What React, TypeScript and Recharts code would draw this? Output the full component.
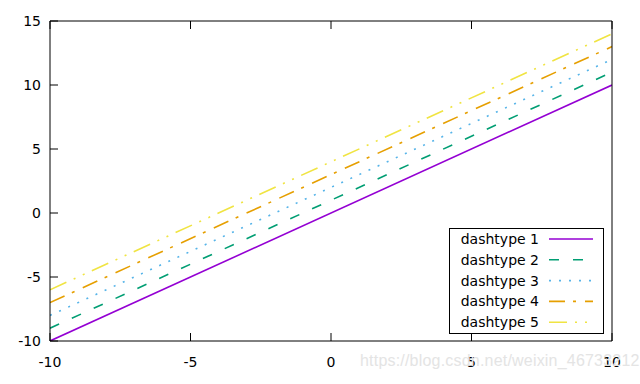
import React from "react";
import { LineChart, Line, XAxis, YAxis, Legend } from "recharts";

const xValues = [-10, 10];
const offsets = [0, 1, 2, 3, 4];
const seriesNames = ["dashtype 1", "dashtype 2", "dashtype 3", "dashtype 4", "dashtype 5"];
const seriesColors = ["#9400d3", "#009e73", "#56b4e9", "#e69f00", "#f0e442"];
const seriesDashes = ["", "10 14", "2 8", "16 8 3 9", "18 8 2 8 2 8"];
const xTicks = [-10, -5, 0, 5, 10];
const yTicks = [-10, -5, 0, 5, 10, 15];

const data = xValues.map((x) => {
  const row: Record<string, number> = { x };
  offsets.forEach((o, i) => {
    row["s" + i] = x + o;
  });
  return row;
});

const FONT = "DejaVu Sans";

const BottomTick = (props: any) => {
  const { x, y, payload } = props;
  return (
    <g>
      <line x1={x} x2={x} y1={y} y2={y - 8} stroke="#000" strokeWidth={1} />
      <text x={x} y={y + 26} textAnchor="middle" fontFamily={FONT} fontSize={14} fill="#000">
        {payload.value}
      </text>
    </g>
  );
};
const TopTick = (props: any) => {
  const { x, y } = props;
  return <line x1={x} x2={x} y1={y} y2={y + 8} stroke="#000" strokeWidth={1} />;
};
const LeftTick = (props: any) => {
  const { x, y, payload } = props;
  return (
    <g>
      <line x1={x} x2={x + 8} y1={y} y2={y} stroke="#000" strokeWidth={1} />
      <text x={x - 9} y={y + 5} textAnchor="end" fontFamily={FONT} fontSize={14} fill="#000">
        {payload.value}
      </text>
    </g>
  );
};
const RightTick = (props: any) => {
  const { x, y } = props;
  return <line x1={x} x2={x - 8} y1={y} y2={y} stroke="#000" strokeWidth={1} />;
};

const LegendBox = () => (
  <svg width={156} height={108} style={{ display: "block" }}>
    <rect x={0.5} y={0.5} width={154} height={105} fill="#fff" stroke="#000" strokeWidth={1} />
    {seriesNames.map((n, i) => {
      const cy = 11 + i * 20.8;
      return (
        <g key={n}>
          <text x={90} y={cy + 5} textAnchor="end" fontFamily={FONT} fontSize={14} fill="#000">
            {n}
          </text>
          <line
            x1={100}
            x2={144}
            y1={cy}
            y2={cy}
            stroke={seriesColors[i]}
            strokeWidth={1.6}
            strokeDasharray={seriesDashes[i] || undefined}
          />
        </g>
      );
    })}
  </svg>
);

export default function App() {
  return (
    <div style={{ position: "absolute", left: 0, top: 0, width: 640, height: 384, background: "#fff" }}>
      <LineChart width={640} height={384} data={data} margin={{ top: 0, right: 0, bottom: 0, left: 0 }}>
        <XAxis
          xAxisId="b"
          dataKey="x"
          type="number"
          domain={[-10, 10]}
          ticks={xTicks}
          height={43}
          tickSize={0}
          tickMargin={0}
          tick={<BottomTick />}
          axisLine={{ stroke: "#000" }}
          tickLine={false}
          allowDataOverflow
        />
        <XAxis
          xAxisId="t"
          orientation="top"
          dataKey="x"
          type="number"
          domain={[-10, 10]}
          ticks={xTicks}
          height={21}
          tickSize={0}
          tickMargin={0}
          tick={<TopTick />}
          axisLine={{ stroke: "#000" }}
          tickLine={false}
        />
        <YAxis
          yAxisId="l"
          type="number"
          domain={[-10, 15]}
          ticks={yTicks}
          width={50}
          tickSize={0}
          tickMargin={0}
          tick={<LeftTick />}
          axisLine={{ stroke: "#000" }}
          tickLine={false}
          allowDataOverflow
        />
        <YAxis
          yAxisId="r"
          orientation="right"
          type="number"
          domain={[-10, 15]}
          ticks={yTicks}
          width={28}
          tickSize={0}
          tickMargin={0}
          tick={<RightTick />}
          axisLine={{ stroke: "#000" }}
          tickLine={false}
        />
        {seriesNames.map((n, i) => (
          <Line
            key={n}
            xAxisId="b"
            yAxisId="l"
            dataKey={"s" + i}
            name={n}
            type="linear"
            stroke={seriesColors[i]}
            strokeWidth={1.6}
            strokeDasharray={seriesDashes[i] || undefined}
            dot={false}
            activeDot={false}
            isAnimationActive={false}
          />
        ))}
        <Legend
          layout="vertical"
          align="center"
          verticalAlign="middle"
          content={() => <LegendBox />}
          wrapperStyle={{ left: 449, top: 228, width: 156, height: 108 }}
        />
      </LineChart>
      <div
        style={{
          position: "absolute",
          left: 360,
          top: 352,
          fontFamily: "Liberation Sans",
          fontSize: 16,
          color: "#e4e4e4",
          whiteSpace: "nowrap",
          pointerEvents: "none",
          letterSpacing: 0.2,
        }}
      >
        https://blog.csdn.net/weixin_46733212
      </div>
    </div>
  );
}
